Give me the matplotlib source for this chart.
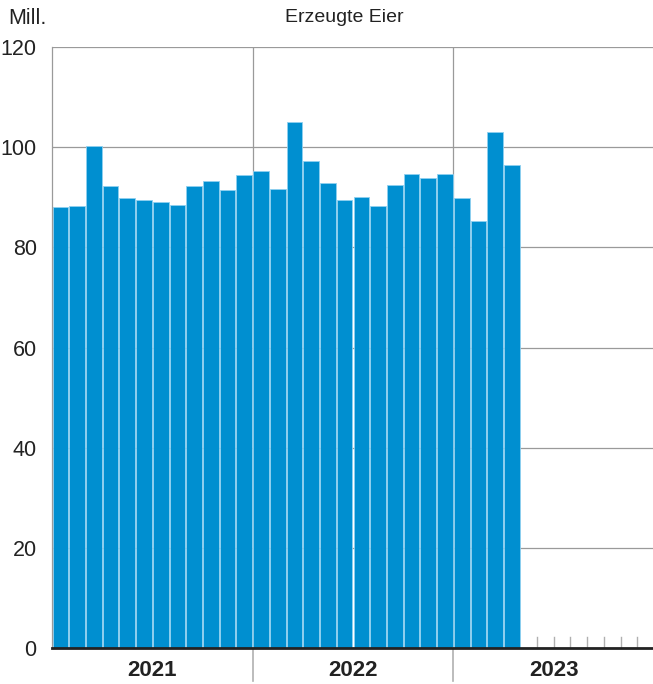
import matplotlib.pyplot as plt
import numpy as np

# monthly egg production, millions (Jan 2021 - Apr 2023)
values_2021 = [88.1, 88.3, 100.2, 92.2, 89.9, 89.5, 89.1, 88.5, 92.2, 93.3, 91.5, 94.5]
values_2022 = [95.2, 91.7, 105.0, 97.2, 92.9, 89.5, 90.1, 88.3, 92.5, 94.7, 93.9, 94.7]
values_2023 = [89.9, 85.3, 103.0, 96.4]
years = ['2021', '2022', '2023']
yticks = [0, 20, 40, 60, 80, 100, 120]

values = values_2021 + values_2022 + values_2023
n_months = 12 * len(years)

plt.rcParams['font.family'] = ['Liberation Sans Narrow', 'Liberation Sans', 'DejaVu Sans']

fig = plt.figure(figsize=(6.53, 6.84), dpi=100)
ax = fig.add_axes([52 / 653, 36 / 684, 602 / 653, 601 / 684])

x = np.arange(len(values))
ax.bar(x, values, width=0.94, color='#008fd0', edgecolor='#8fd0f0', linewidth=0.6, zorder=2)

ax.set_xlim(-0.5, n_months - 0.5)
ax.set_ylim(0, 120)
ax.set_yticks(yticks)
ax.tick_params(axis='y', length=0, labelsize=15.5, pad=11, colors='#222222')
ax.grid(axis='y', color='#9a9a9a', linewidth=0.9, zorder=0)

# year separators
for i in range(1, len(years)):
    ax.axvline(12 * i - 0.5, color='#9a9a9a', linewidth=0.9, zorder=0)
    ax.plot([12 * i - 0.5] * 2, [0, -6.5], color='#b0b0b0', linewidth=1.2, clip_on=False)

# small month ticks where no data yet
for p in np.arange(len(values) + 0.5, n_months - 0.5):
    ax.plot([p, p], [0, 2.2], color='#b0b0b0', linewidth=1, zorder=1)

ax.set_xticks([12 * i + 5.5 for i in range(len(years))])
ax.set_xticklabels(years, fontweight='bold', fontsize=16, color='#222222', family=['Liberation Sans', 'DejaVu Sans'])
ax.tick_params(axis='x', length=0, pad=9)

for s in ['top', 'right']:
    ax.spines[s].set_visible(False)
ax.spines['left'].set_color('#9a9a9a')
ax.spines['left'].set_linewidth(0.9)
ax.spines['bottom'].set_color('#222222')
ax.spines['bottom'].set_linewidth(2)
ax.spines['bottom'].set_zorder(3)

fig.text(8 / 653, 1 - 18 / 684, 'Mill.', fontsize=15.5, color='#222222', va='center', ha='left')
fig.text(344 / 653, 1 - 18 / 684, 'Erzeugte Eier', fontsize=14, color='#222222', va='center', ha='center')

fig.savefig('out.png', dpi=100)
